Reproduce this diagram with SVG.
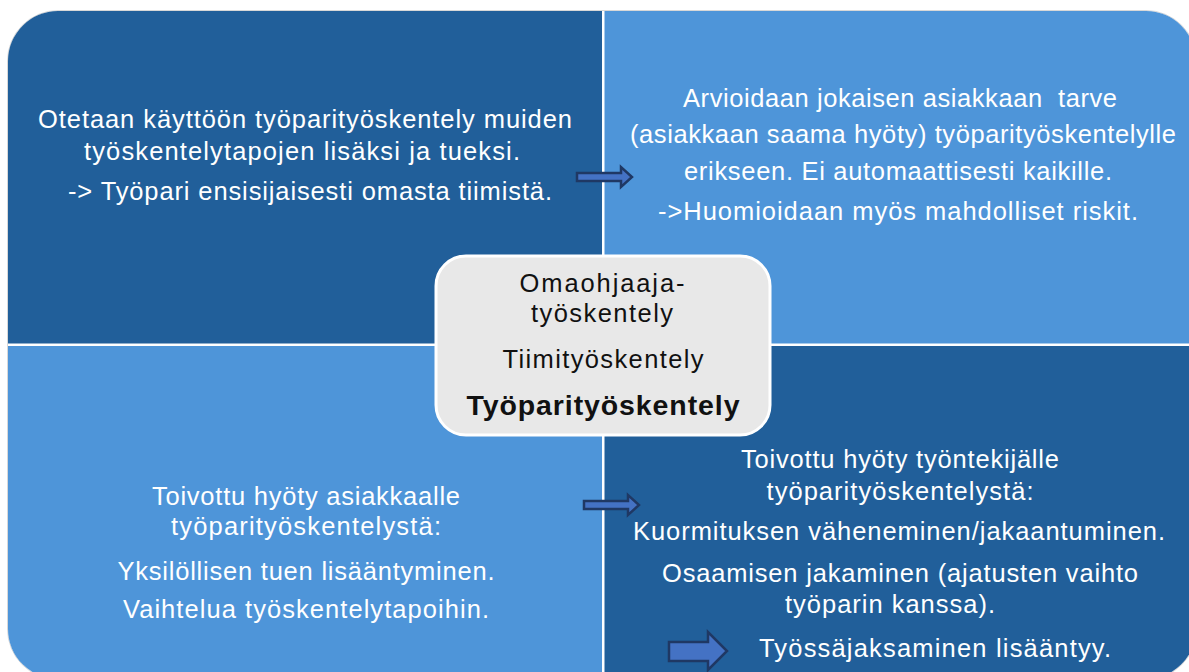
<svg xmlns="http://www.w3.org/2000/svg" width="1189" height="672" viewBox="0 0 1189 672">
<defs>
<style>
.t{font-family:"Liberation Sans",Arial,sans-serif;font-size:25.5px;fill:#ffffff;text-anchor:middle}
.c{font-family:"Liberation Sans",Arial,sans-serif;font-size:25.5px;fill:#111111;text-anchor:middle}
.b{font-weight:bold;font-size:28.5px}
.arr{fill:#4472c4;stroke:#1f3864;stroke-width:2.5;stroke-linejoin:miter}
.dark{fill:#215f9a}
.light{fill:#4e95d9}
</style>
<clipPath id="outer"><rect x="8" y="11" width="1188" height="668" rx="50" ry="50"/></clipPath>
</defs>
<rect width="1189" height="672" fill="#ffffff"/>
<rect x="7.5" y="10.5" width="1189" height="669" rx="50.5" ry="50.5" fill="none" stroke="#d8d8d8" stroke-width="1"/>
<g clip-path="url(#outer)">
<g id="q-top-left"><rect class="dark" x="8" y="11" width="594" height="332.5"/></g>
<g id="q-top-right"><rect class="light" x="604.5" y="11" width="592" height="332.5"/></g>
<g id="q-bottom-left"><rect class="light" x="8" y="346" width="594" height="333"/></g>
<g id="q-bottom-right"><rect class="dark" x="604.5" y="346" width="592" height="333"/></g>
</g>
<g id="text-top-left">
<text class="t" x="305" y="128" textLength="534" lengthAdjust="spacing">Otetaan käyttöön työparityöskentely muiden</text>
<text class="t" x="302" y="160" textLength="436" lengthAdjust="spacing">työskentelytapojen lisäksi ja tueksi.</text>
<text class="t" x="310" y="200" textLength="484" lengthAdjust="spacing">-&gt; Työpari ensisijaisesti omasta tiimistä.</text>
</g>
<g id="text-top-right">
<text class="t" x="900" y="107" textLength="434" lengthAdjust="spacing" xml:space="preserve">Arvioidaan jokaisen asiakkaan  tarve</text>
<text class="t" x="903" y="143" textLength="546" lengthAdjust="spacing">(asiakkaan saama hyöty) työparityöskentelylle</text>
<text class="t" x="898" y="180" textLength="428" lengthAdjust="spacing">erikseen. Ei automaattisesti kaikille.</text>
<text class="t" x="898" y="220" textLength="480" lengthAdjust="spacing">-&gt;Huomioidaan myös mahdolliset riskit.</text>
</g>
<g id="text-bottom-left">
<text class="t" x="306" y="505" textLength="308" lengthAdjust="spacing">Toivottu hyöty asiakkaalle</text>
<text class="t" x="306" y="535" textLength="270" lengthAdjust="spacing">työparityöskentelystä:</text>
<text class="t" x="306" y="580" textLength="377" lengthAdjust="spacing">Yksilöllisen tuen lisääntyminen.</text>
<text class="t" x="306" y="618" textLength="366" lengthAdjust="spacing">Vaihtelua työskentelytapoihin.</text>
</g>
<g id="text-bottom-right">
<text class="t" x="900" y="468" textLength="318" lengthAdjust="spacing">Toivottu hyöty työntekijälle</text>
<text class="t" x="900" y="500" textLength="267" lengthAdjust="spacing">työparityöskentelystä:</text>
<text class="t" x="899" y="540" textLength="532" lengthAdjust="spacing">Kuormituksen väheneminen/jakaantuminen.</text>
<text class="t" x="900" y="582" textLength="476" lengthAdjust="spacing">Osaamisen jakaminen (ajatusten vaihto</text>
<text class="t" x="890" y="613" textLength="210" lengthAdjust="spacing">työparin kanssa).</text>
<text class="t" x="935" y="657" textLength="352" lengthAdjust="spacing">Työssäjaksaminen lisääntyy.</text>
</g>
<g id="center">
<rect x="436" y="256" width="334" height="179" rx="30" ry="30" fill="#e8e8e8" stroke="#ffffff" stroke-width="3"/>
<text class="c" x="602" y="292" textLength="165" lengthAdjust="spacing">Omaohjaaja-</text>
<text class="c" x="602" y="322" textLength="142" lengthAdjust="spacing">työskentely</text>
<text class="c" x="603" y="368" textLength="201" lengthAdjust="spacing">Tiimityöskentely</text>
<text class="c b" x="603" y="415" textLength="273" lengthAdjust="spacing">Työparityöskentely</text>
</g>
<g id="connectors">
<path class="arr" d="M577,173 H621 V167 L632,177 L621,187 V181 H577 Z"/>
<path class="arr" d="M584,501 H628 V495 L639,505 L628,515 V509 H584 Z"/>
<path class="arr" d="M669,642 H708 V632 L727,651 L708,670 V661 H669 Z"/>
</g>
</svg>
